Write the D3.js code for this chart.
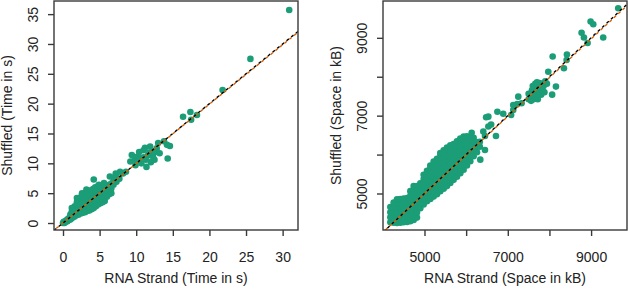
<!DOCTYPE html>
<html>
<head>
<meta charset="utf-8">
<script src="https://cdn.jsdelivr.net/npm/d3@7"></script>
<style>
  body { margin: 0; background: #fff; }
  svg text { font-family: "Liberation Sans", Arial, Helvetica, sans-serif; font-size: 14px; fill: #222; }
</style>
</head>
<body>
<svg id="chart" width="628" height="290"></svg>
<script>
// ---- data: left panel, run time in seconds (RNA strand vs shuffled) ----
const timePoints = [
  [0.0,0.0],[0.1,0.2],[0.2,0.0],[0.3,0.3],[0.4,0.2],[0.5,0.5],[0.6,0.3],[0.7,0.7],[0.8,0.5],
  [0.9,0.9],[1.0,0.6],[1.1,1.1],[1.2,0.8],[1.3,1.4],[1.4,1.0],[1.5,1.6],[1.6,1.1],[1.7,1.9],
  [1.0,1.4],[1.2,1.9],[1.2,2.5],[1.5,2.2],[1.6,2.8],[1.9,4.2],
  [1.8,1.3],[1.8,2.1],[1.9,2.9],[1.9,3.5],
  [2.1,1.4],[2.1,2.2],[2.2,3.0],[2.2,3.8],
  [2.4,1.6],[2.4,2.4],[2.4,3.2],[2.4,4.3],[2.6,5.0],
  [2.7,1.7],[2.7,2.5],[2.7,3.3],[2.7,4.1],
  [3.0,1.8],[3.0,2.6],[3.0,3.4],[2.9,4.3],[3.0,5.0],[3.2,5.6],
  [3.3,2.0],[3.3,2.8],[3.3,3.6],[3.3,4.4],[3.4,5.2],
  [3.6,2.1],[3.6,2.9],[3.6,3.7],[3.6,4.5],
  [3.9,2.3],[3.9,3.1],[3.9,3.9],[3.9,4.7],[3.8,5.5],
  [4.2,2.5],[4.2,3.3],[4.2,4.1],[4.2,4.9],[4.1,5.7],[4.2,7.3],
  [4.5,2.8],[4.5,3.6],[4.5,4.4],[4.5,5.2],[4.4,6.0],
  [4.8,3.1],[4.8,3.9],[4.8,4.7],[4.8,5.5],[4.7,6.1],[4.9,6.4],
  [5.1,3.3],[5.1,4.1],[5.1,4.9],[5.1,5.7],
  [5.4,3.5],[5.4,4.3],[5.4,5.1],[5.4,5.9],
  [5.7,3.7],[5.7,4.5],[5.7,5.3],[5.7,6.1],[5.6,6.7],
  [6.0,4.4],[6.0,5.2],[6.0,6.0],
  [6.3,4.8],[6.3,5.6],[6.3,6.4],
  [6.6,5.0],[6.6,5.8],[6.6,6.6],[6.4,7.8],
  [6.9,6.4],[6.9,7.1],[7.0,7.6],
  [7.3,6.9],[7.3,7.7],[7.2,8.3],
  [7.7,7.4],[7.8,8.6],[8.2,8.3],[8.6,8.6],
  [9.2,10.3],[9.4,11.4],[9.8,10.6],[9.9,9.7],[10.1,11.1],[10.4,11.9],[10.7,10.0],[11.0,12.2],
  [11.4,9.4],[11.3,10.6],[11.6,11.3],[11.9,12.8],[12.3,11.1],[12.6,11.9],[12.0,10.2],[11.0,11.0],
  [10.5,10.9],[11.8,11.8],[13.0,13.4],[13.2,11.7],[12.8,12.5],[12.5,10.6],[14.2,13.1],[14.6,12.9],
  [14.3,10.8],[13.8,13.7],[12.4,12.0],[11.2,12.6],
  [16.4,17.8],[17.4,18.6],[17.5,17.3],[18.3,18.1],[21.8,22.3],[25.6,27.5],[30.9,35.7]
];

// ---- data: right panel, memory in kB (RNA strand vs shuffled) ----
const spacePoints = [
  [4180,4260],[4180,4390],[4180,4520],[4180,4650],
  [4260,4250],[4260,4380],[4260,4510],[4260,4640],[4260,4770],
  [4340,4240],[4340,4370],[4340,4500],[4340,4630],[4340,4760],[4340,4850],
  [4420,4250],[4420,4380],[4420,4510],[4420,4640],[4420,4770],[4420,4860],
  [4500,4260],[4500,4390],[4500,4520],[4500,4650],[4500,4780],[4500,4870],
  [4580,4270],[4580,4400],[4580,4530],[4580,4660],[4580,4790],[4580,4880],
  [4660,4290],[4660,4420],[4660,4550],[4660,4680],[4660,4810],[4660,4940],[4660,5060],
  [4740,4320],[4740,4450],[4740,4580],[4740,4710],[4740,4840],[4740,4970],[4740,5100],[4740,5190],
  [4820,4380],[4820,4510],[4820,4640],[4820,4770],[4820,4900],[4820,5030],[4820,5160],[4820,5190],
  [4900,4620],[4900,4750],[4900,4880],[4900,5010],[4900,5140],[4900,5260],
  [4980,4720],[4980,4850],[4980,4980],[4980,5110],[4980,5240],[4980,5370],[4980,5480],
  [5060,4800],[5060,4930],[5060,5060],[5060,5190],[5060,5320],[5060,5450],[5060,5580],
  [5140,4860],[5140,4990],[5140,5120],[5140,5250],[5140,5380],[5140,5510],[5140,5640],[5140,5720],
  [5220,4920],[5220,5050],[5220,5180],[5220,5310],[5220,5440],[5220,5570],[5220,5700],[5220,5820],
  [5300,4980],[5300,5110],[5300,5240],[5300,5370],[5300,5500],[5300,5630],[5300,5760],[5300,5890],
  [5380,5060],[5380,5190],[5380,5320],[5380,5450],[5380,5580],[5380,5710],[5380,5840],[5380,5970],[5380,6040],
  [5460,5120],[5460,5250],[5460,5380],[5460,5510],[5460,5640],[5460,5770],[5460,5900],[5460,6030],[5460,6110],
  [5540,5190],[5540,5320],[5540,5450],[5540,5580],[5540,5710],[5540,5840],[5540,5970],[5540,6100],[5540,6180],
  [5620,5270],[5620,5400],[5620,5530],[5620,5660],[5620,5790],[5620,5920],[5620,6050],[5620,6180],[5620,6240],
  [5700,5350],[5700,5480],[5700,5610],[5700,5740],[5700,5870],[5700,6000],[5700,6130],[5700,6270],
  [5780,5430],[5780,5560],[5780,5690],[5780,5820],[5780,5950],[5780,6080],[5780,6210],[5780,6340],
  [5860,5520],[5860,5650],[5860,5780],[5860,5910],[5860,6040],[5860,6170],[5860,6300],[5860,6410],
  [5940,5610],[5940,5740],[5940,5870],[5940,6000],[5940,6130],[5940,6260],[5940,6390],[5940,6460],
  [6020,5720],[6020,5850],[6020,5980],[6020,6110],[6020,6240],[6020,6370],[6020,6470],
  [6100,5830],[6100,5960],[6100,6090],[6100,6220],[6100,6350],[6100,6450],
  [6180,5960],[6180,6090],[6180,6220],[6180,6350],[6180,6430],
  [6260,6060],[6260,6190],[6260,6320],[6330,6200],[6330,6330],[6340,5870],
  [6133,6560],[6412,6590],[6452,6118],[6452,6478],[6533,6720],[6533,6974],[6480,6960],[6600,6770],
  [6716,6478],[6750,7102],[6891,7050],[7080,7018],[7131,7146],[7131,7275],[7227,7300],[7252,7488],[7332,7318],
  [7500,7420],[7560,7380],[7620,7420],[7560,7520],[7500,7560],[7620,7560],[7680,7500],[7700,7620],
  [7640,7680],[7580,7650],[7760,7600],[7740,7700],[7680,7760],[7800,7720],[7820,7820],[7760,7840],
  [7700,7860],[7860,7760],[7900,7880],[7660,7820],[7840,7640],[7940,7820],[7600,7760],[7720,7420],
  [7800,7540],[7880,7600],
  [7972,8130],[8065,7540],[8156,7746],[8077,8520],[8348,8218],[8412,8431],[8420,8570],
  [8772,9130],[8828,9010],[8916,8865],[8988,9420],[9052,9349],[9291,9010],[9651,9760]
];

// tick values and labels
const timeTicksX = [0, 5, 10, 15, 20, 25, 30];
const timeTicksY = [0, 5, 10, 15, 20, 25, 30, 35];
const spaceTicks = [5000, 6000, 7000, 8000, 9000];
const spaceLabelled = [5000, 7000, 9000];

// reference line y = x and the fitted line [intercept, slope]
const identityLine = [0, 1];
const timeFit = [0.02, 0.995];
const spaceFit = [25, 0.994];

const titles = {
  timeX: "RNA Strand (Time in s)", timeY: "Shuffled (Time in s)",
  spaceX: "RNA Strand (Space in kB)", spaceY: "Shuffled (Space in kB)"
};

const svg = d3.select('#chart');
const GREEN = '#1b9e77', ORANGE = '#d95f02', INK = '#3a3a3a';

function panel(p) {
  const x = d3.scaleLinear().domain(p.xDomain).range([p.left, p.right]);
  const y = d3.scaleLinear().domain(p.yDomain).range([p.bottom, p.top]);
  const g = svg.append('g');

  const clipId = 'clip-' + p.id;
  svg.append('clipPath').attr('id', clipId)
    .append('rect').attr('x', p.left).attr('y', p.top)
    .attr('width', p.right - p.left).attr('height', p.bottom - p.top);

  g.append('g').attr('clip-path', `url(#${clipId})`)
    .selectAll('circle').data(p.points).join('circle')
    .attr('cx', d => x(d[0])).attr('cy', d => y(d[1]))
    .attr('r', 3.3).attr('fill', GREEN);

  // abline style lines over the points
  const lines = [
    { coef: identityLine, color: '#000', offset: 0 },
    { coef: p.fit, color: ORANGE, offset: 3 }
  ];
  g.append('g').attr('clip-path', `url(#${clipId})`)
    .selectAll('line').data(lines).join('line')
    .attr('x1', x(p.xDomain[0])).attr('x2', x(p.xDomain[1]))
    .attr('y1', d => y(d.coef[0] + d.coef[1] * p.xDomain[0]))
    .attr('y2', d => y(d.coef[0] + d.coef[1] * p.xDomain[1]))
    .attr('stroke', d => d.color).attr('stroke-width', 1.4)
    .attr('stroke-dasharray', '3,3').attr('stroke-dashoffset', d => d.offset);

  // axes
  const xa = g.append('g').attr('transform', `translate(0,${p.bottom})`)
    .call(d3.axisBottom(x).tickValues(p.xTicks).tickSize(6).tickSizeOuter(0)
      .tickFormat(d => p.xLabelled.includes(d) ? d : ''));
  const ya = g.append('g').attr('transform', `translate(${p.left},0)`)
    .call(d3.axisLeft(y).tickValues(p.yTicks).tickSize(6).tickSizeOuter(0)
      .tickFormat(d => p.yLabelled.includes(d) ? d : ''));
  [xa, ya].forEach(a => {
    a.select('.domain').remove();
    a.attr('font-family', null).attr('font-size', null);
    a.selectAll('line').attr('stroke', INK).attr('stroke-width', 1.4);
  });
  xa.selectAll('text').attr('y', 32).attr('dy', null).attr('fill', '#222');
  ya.selectAll('text').attr('x', null).attr('dy', null).attr('fill', '#222')
    .attr('text-anchor', 'middle').attr('transform', 'translate(-16,0) rotate(-90)');

  g.append('rect').attr('x', p.left).attr('y', p.top)
    .attr('width', p.right - p.left).attr('height', p.bottom - p.top)
    .attr('fill', 'none').attr('stroke', INK).attr('stroke-width', 1.4);

  g.append('text').attr('x', (p.left + p.right) / 2).attr('y', 283)
    .attr('text-anchor', 'middle').text(p.xTitle);
  g.append('text').attr('text-anchor', 'middle')
    .attr('transform', `translate(${p.yTitleX},${(p.top + p.bottom) / 2}) rotate(-90)`)
    .text(p.yTitle);
}

panel({
  id: 'time', points: timePoints, fit: timeFit,
  left: 54, right: 298, top: 1, bottom: 230,
  xDomain: [-1.23, 32.1], yDomain: [-1.17, 37.2],
  xTicks: timeTicksX, xLabelled: timeTicksX, yTicks: timeTicksY, yLabelled: timeTicksY,
  xTitle: titles.timeX, yTitle: titles.timeY, yTitleX: 12
});

panel({
  id: 'space', points: spacePoints, fit: spaceFit,
  left: 383, right: 627, top: 1, bottom: 230,
  xDomain: [4004, 9862], yDomain: [4062, 9946],
  xTicks: spaceTicks, xLabelled: spaceLabelled, yTicks: spaceTicks, yLabelled: spaceLabelled,
  xTitle: titles.spaceX, yTitle: titles.spaceY, yTitleX: 341
});
</script>
</body>
</html>
